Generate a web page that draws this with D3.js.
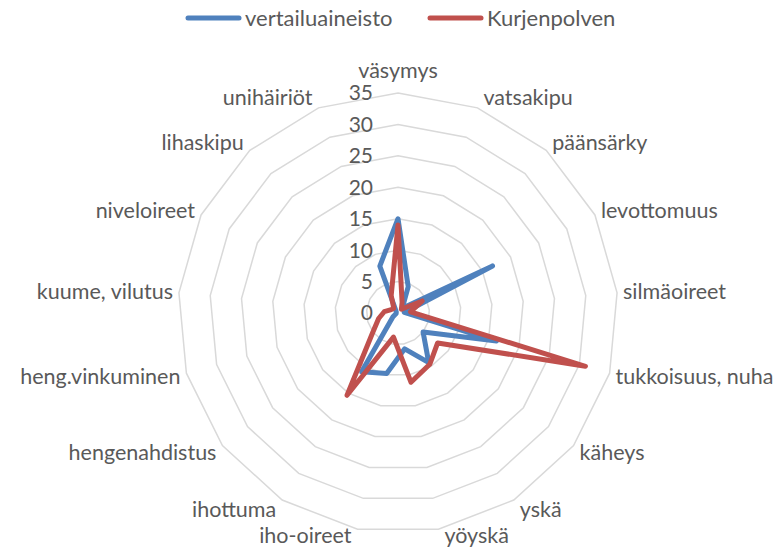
<!DOCTYPE html>
<html>
<head>
<meta charset="utf-8">
<script src="https://cdn.jsdelivr.net/npm/d3@7"></script>
<style>
  body { margin: 0; background: #fff; }
  text { font-family: Lato, "Open Sans", sans-serif; fill: #595959; }
</style>
</head>
<body>
<div id="chart"></div>
<script>
// categories, clockwise from the top
var categories = ["väsymys", "vatsakipu", "päänsärky", "levottomuus", "silmäoireet",
  "tukkoisuus, nuha", "käheys", "yskä", "yöyskä", "iho-oireet", "ihottuma",
  "hengenahdistus", "heng.vinkuminen", "kuume, vilutus", "niveloireet", "lihaskipu", "unihäiriöt"];

var vertailu = [15, 4.5, 1, 16.8, 1, 16.3, 5, 9.3, 5.8, 9.8, 11, 1, 0.3, 0.3, 0.3, 0.5, 8];
var kurjen = [14, 1.8, 0.8, 4.3, 2, 31, 7.9, 9.6, 11.2, 3.9, 15.4, 5, 3.2, 2.2, 1.2, 1, 3];

var seriesNames = ["vertailuaineisto", "Kurjenpolven"];
var colors = ["#4f81bd", "#c0504d"];
var ticks = [0, 5, 10, 15, 20, 25, 30, 35];

var width = 782, height = 551;
var cx = 398, cy = 313;

var svg = d3.select("#chart").append("svg")
    .attr("width", width)
    .attr("height", height);

var r = d3.scaleLinear().domain([0, 35]).range([0, 220]);
var angle = d3.scaleLinear().domain([0, categories.length]).range([0, 2 * Math.PI]);

var g = svg.append("g").attr("transform", "translate(" + cx + "," + cy + ")");

// grid rings (no spokes)
var ring = d3.lineRadial()
    .angle(function(d, i) { return angle(i); })
    .radius(function(d) { return r(d); })
    .curve(d3.curveLinearClosed);

g.selectAll("path.grid")
    .data(ticks.slice(1))
    .enter().append("path")
    .attr("class", "grid")
    .attr("d", function(t) { return ring(categories.map(function() { return t; })); })
    .attr("fill", "none")
    .attr("stroke", "#d9d9d9")
    .attr("stroke-width", 1.5);

// value labels
g.selectAll("text.tick")
    .data(ticks)
    .enter().append("text")
    .attr("class", "tick")
    .attr("x", -25)
    .attr("y", function(t) { return -r(t); })
    .attr("dy", "0.35em")
    .attr("text-anchor", "end")
    .style("font-size", "21px")
    .text(function(t) { return t; });

// category labels
g.selectAll("text.cat")
    .data(categories)
    .enter().append("text")
    .attr("class", "cat")
    .each(function(d, i) {
        var a = angle(i);
        var dx = Math.sin(a), dy = -Math.cos(a);
        var vx = r(35) * dx, vy = r(35) * dy;
        var el = d3.select(this);
        if (Math.abs(dx) < 0.01) {
            el.attr("x", vx).attr("y", vy - 23).attr("text-anchor", "middle");
        } else {
            el.attr("x", vx + (dx > 0 ? 6 : -6))
              .attr("y", vy + dy * (dy > 0.9 ? 6 : 11))
              .attr("text-anchor", dx > 0 ? "start" : "end");
        }
    })
    .attr("dy", "0.35em")
    .style("font-size", "21.5px")
    .text(function(d) { return d; });

// series
var line = d3.lineRadial()
    .angle(function(d, i) { return angle(i); })
    .radius(function(d) { return r(d); })
    .curve(d3.curveLinearClosed);

g.selectAll("path.series")
    .data([vertailu, kurjen])
    .enter().append("path")
    .attr("class", "series")
    .attr("d", line)
    .attr("fill", "none")
    .attr("stroke", function(d, i) { return colors[i]; })
    .attr("stroke-width", 5)
    .attr("stroke-linejoin", "round");

// legend
var legendX = [186, 428];
var legend = svg.selectAll("g.legend")
    .data(seriesNames)
    .enter().append("g")
    .attr("class", "legend")
    .attr("transform", function(d, i) { return "translate(" + legendX[i] + ",18)"; });

legend.append("line")
    .attr("x1", 2).attr("x2", 53)
    .attr("stroke", function(d, i) { return colors[i]; })
    .attr("stroke-width", 5)
    .attr("stroke-linecap", "round");

legend.append("text")
    .attr("x", 59)
    .attr("dy", "0.35em")
    .style("font-size", "22px")
    .text(function(d) { return d; });
</script>
</body>
</html>
